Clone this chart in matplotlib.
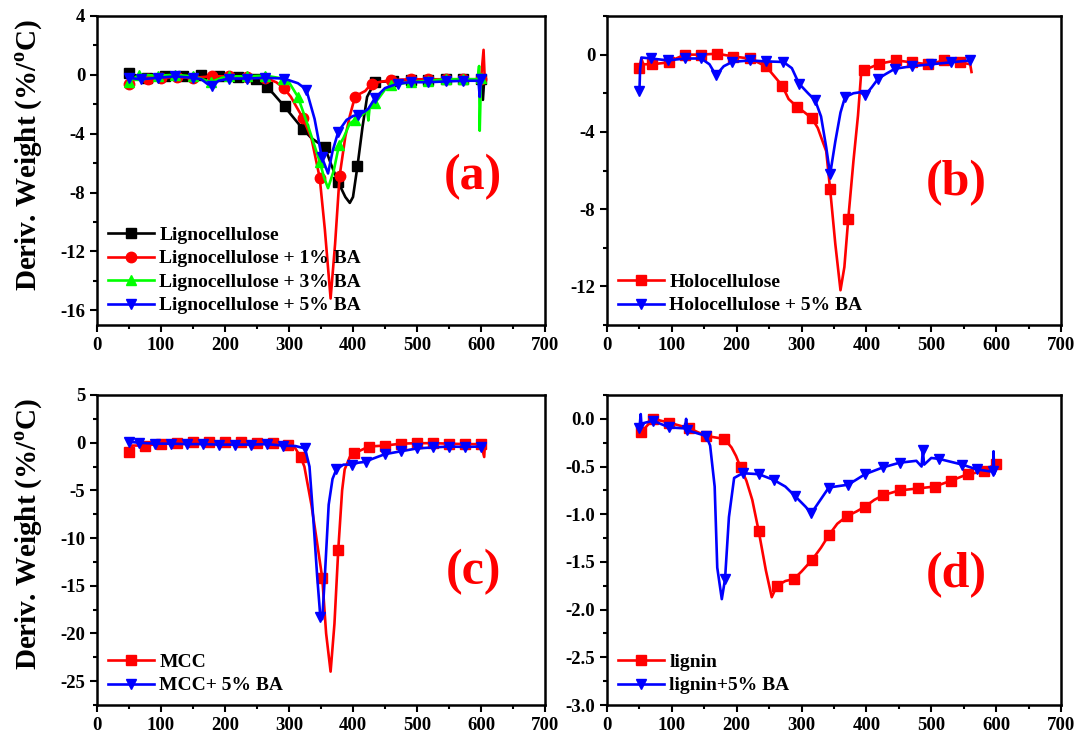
import numpy as np
import matplotlib
matplotlib.use("Agg")
import matplotlib.pyplot as plt
from matplotlib.ticker import MultipleLocator, FormatStrFormatter

plt.rcParams['font.family'] = ['Liberation Serif', 'DejaVu Serif']
plt.rcParams['font.weight'] = 'bold'
plt.rcParams['axes.unicode_minus'] = False

# ---------------- Panel (a) ----------------
a_ligno_T = [50, 65, 78, 95, 106, 123, 135, 150, 163, 180, 191, 207, 220, 235, 248, 265, 276, 293, 305,
             322, 335, 345, 356, 365, 377, 388, 395, 400, 407, 415, 422, 434, 450, 462, 490, 517, 545, 572,
             600, 603, 605, 606]
a_ligno_D = [0.1, -0.1, -0.2, -0.05, -0.1, 0.0, -0.1, -0.05, 0.0, -0.05, -0.1, -0.1, -0.15, -0.2, -0.3,
             -0.8, -1.3, -2.15, -2.8, -3.7, -4.3, -4.6, -4.9, -6.0, -7.3, -8.3, -8.7, -8.3, -6.2, -3.5, -1.5,
             -0.5, -0.45, -0.4, -0.35, -0.35, -0.3, -0.3, -0.3, -1.7, -0.3, -0.2]
a_ligno_M = [50, 78, 106, 135, 163, 191, 220, 248, 265, 293, 322, 356, 377, 407, 434, 462, 490, 517, 545, 572, 600]

a_ba1_T = [50, 60, 80, 100, 125, 150, 180, 207, 235, 263, 280, 292, 303, 312, 322, 335, 348, 356, 365, 372,
           379, 388, 395, 403, 410, 419, 429, 440, 460, 490, 517, 545, 572, 600, 604, 606, 607]
a_ba1_D = [-0.6, -0.3, -0.3, -0.2, -0.15, -0.2, -0.1, -0.1, -0.15, -0.2, -0.5, -0.9, -1.5, -2.2, -2.95,
           -4.3, -7.0, -10.5, -15.2, -11.5, -6.9, -4.2, -2.8, -1.5, -1.3, -1.1, -0.6, -0.5, -0.35, -0.3,
           -0.3, -0.3, -0.3, -0.3, 1.7, -0.5, -0.2]
a_ba1_M = [50, 80, 100, 125, 150, 180, 207, 235, 263, 292, 322, 348, 379, 403, 429, 460, 490, 517, 545, 572, 600]

a_ba3_T = [50, 65, 95, 122, 150, 165, 178, 195, 207, 235, 263, 290, 300, 314, 330, 348, 355, 361, 370, 378,
           385, 395, 403, 415, 422, 424, 426, 434, 440, 450, 460, 490, 517, 545, 572, 595, 597, 598, 600]
a_ba3_D = [-0.5, 0.0, -0.05, 0.0, -0.1, -0.3, -0.5, -0.2, -0.1, -0.1, -0.05, -0.25, -0.5, -1.5, -3.5, -5.9,
           -7.0, -7.7, -6.5, -4.8, -4.3, -3.3, -3.06, -2.7, -2.4, -3.1, -2.2, -1.9, -1.6, -1.0, -0.7, -0.5,
           -0.4, -0.3, -0.3, -0.3, 0.6, -3.8, -0.2]
a_ba3_M = [50, 65, 95, 122, 150, 178, 207, 235, 263, 290, 314, 348, 378, 403, 434, 460, 490, 517, 545, 572, 600]

a_ba5_T = [50, 68, 95, 122, 150, 163, 172, 180, 190, 207, 235, 263, 292, 314, 327, 340, 351, 361, 368, 377,
           390, 400, 408, 418, 424, 434, 450, 470, 490, 517, 545, 572, 596, 598, 600]
a_ba5_D = [-0.2, -0.3, -0.2, -0.1, -0.2, -0.3, -0.6, -0.75, -0.4, -0.25, -0.25, -0.2, -0.25, -0.57, -1.0,
           -3.0, -5.55, -6.7, -5.2, -3.86, -3.06, -2.8, -2.7, -2.5, -2.3, -1.6, -0.9, -0.6, -0.5, -0.5,
           -0.45, -0.4, -0.4, -1.5, -0.3]
a_ba5_M = [50, 68, 95, 122, 150, 180, 207, 235, 263, 292, 327, 351, 377, 408, 434, 470, 490, 517, 545, 572, 600]

# ---------------- Panel (b) ----------------
b_holo_T = [50, 53, 56, 70, 95, 100, 120, 145, 170, 195, 220, 245, 255, 270, 280, 293, 305, 316, 325, 331,
            338, 344, 352, 360, 366, 372, 380, 387, 392, 397, 420, 446, 470, 495, 520, 545, 560, 562]
b_holo_D = [-0.7, -0.2, -0.5, -0.5, -0.4, -0.3, 0.0, 0.0, 0.05, -0.1, -0.2, -0.6, -1.0, -1.6, -2.3, -2.7,
            -3.0, -3.3, -3.8, -4.36, -5.0, -6.96, -9.8, -12.2, -11.0, -8.5, -5.5, -3.15, -0.9, -0.8, -0.47,
            -0.3, -0.4, -0.5, -0.3, -0.4, -0.5, -0.9]
b_holo_M = [50, 70, 95, 120, 145, 170, 195, 220, 245, 270, 293, 316, 344, 372, 397, 420, 446, 470, 495, 520, 545]

b_ba5_T = [50, 51, 53, 68, 94, 120, 145, 158, 168, 180, 193, 220, 245, 272, 285, 296, 310, 321, 330, 338,
           344, 352, 360, 367, 380, 390, 398, 408, 418, 430, 444, 470, 500, 530, 560]
b_ba5_D = [-1.9, -0.8, -0.15, -0.2, -0.3, -0.2, -0.2, -0.5, -1.07, -0.6, -0.38, -0.3, -0.35, -0.38, -0.7,
           -1.5, -2.0, -2.37, -3.2, -4.8, -6.2, -4.5, -3.0, -2.2, -2.0, -1.95, -2.1, -1.7, -1.25, -1.0,
           -0.73, -0.6, -0.5, -0.4, -0.3]
b_ba5_M = [50, 68, 94, 120, 145, 168, 193, 220, 245, 272, 296, 321, 344, 367, 398, 418, 444, 470, 500, 530, 560]

# ---------------- Panel (c) ----------------
c_mcc_T = [50, 55, 75, 100, 125, 150, 175, 200, 225, 250, 275, 298, 310, 318, 324, 335, 345, 352, 358, 365,
           371, 377, 383, 387, 395, 402, 412, 425, 450, 475, 500, 525, 550, 575, 600, 605, 606]
c_mcc_D = [-1.0, -0.3, -0.3, -0.1, 0.0, 0.1, 0.1, 0.1, 0.05, 0.0, 0.0, -0.2, -0.6, -1.5, -2.5, -6.5, -11.0,
           -14.2, -20.0, -24.0, -19.0, -11.2, -5.0, -2.8, -1.5, -1.1, -0.8, -0.4, -0.3, -0.1, -0.05, -0.05,
           -0.1, -0.15, -0.15, -1.5, -0.3]
c_mcc_M = [50, 75, 100, 125, 150, 175, 200, 225, 250, 275, 298, 318, 352, 377, 402, 425, 450, 475, 500, 525,
           550, 575, 600]

c_ba5_T = [50, 65, 90, 115, 140, 165, 190, 215, 240, 265, 290, 310, 325, 332, 338, 344, 349, 352, 356, 362,
           368, 374, 385, 398, 408, 420, 430, 450, 475, 500, 525, 550, 575, 600, 605]
c_ba5_D = [0.1, 0.0, -0.1, -0.1, -0.15, -0.15, -0.2, -0.2, -0.2, -0.15, -0.3, -0.35, -0.6, -2.5, -8.0, -14.0,
           -18.3, -18.5, -14.0, -6.5, -3.8, -2.8, -2.3, -2.3, -2.1, -2.0, -1.7, -1.2, -0.9, -0.6, -0.5,
           -0.4, -0.45, -0.4, -0.3]
c_ba5_M = [50, 65, 90, 115, 140, 165, 190, 215, 240, 265, 290, 325, 349, 374, 398, 420, 450, 475, 500, 525,
           550, 575, 600]

# ---------------- Panel (d) ----------------
d_lig_T = [50, 53, 71, 96, 127, 153, 181, 192, 199, 206, 215, 224, 234, 245, 254, 262, 275, 288, 300, 316,
           330, 342, 355, 370, 385, 398, 412, 426, 451, 479, 505, 530, 556, 582, 592, 600]
d_lig_D = [-0.14, -0.14, 0.0, -0.04, -0.1, -0.18, -0.21, -0.3, -0.39, -0.51, -0.65, -0.85, -1.18, -1.59,
           -1.87, -1.75, -1.7, -1.68, -1.6, -1.48, -1.35, -1.22, -1.1, -1.02, -0.97, -0.92, -0.85, -0.8,
           -0.75, -0.73, -0.71, -0.65, -0.58, -0.55, -0.5, -0.47]
d_lig_M = [53, 71, 96, 127, 153, 181, 206, 234, 262, 288, 316, 342, 370, 398, 426, 451, 479, 505, 530, 556,
           582, 600]

d_ba5_T = [50, 52, 53, 71, 96, 120, 122, 124, 153, 159, 166, 170, 177, 182, 188, 196, 209, 234, 257, 275,
           290, 306, 315, 327, 342, 372, 398, 425, 451, 477, 485, 487, 489, 500, 512, 524, 548, 570, 590,
           595, 596, 597, 600]
d_ba5_D = [-0.1, 0.05, -0.05, -0.02, -0.09, -0.1, 0.0, -0.12, -0.18, -0.28, -0.71, -1.56, -1.89, -1.68,
           -1.03, -0.62, -0.57, -0.58, -0.64, -0.71, -0.81, -0.92, -0.99, -0.87, -0.72, -0.69, -0.58, -0.51,
           -0.46, -0.44, -0.5, -0.33, -0.48, -0.41, -0.42, -0.44, -0.48, -0.53, -0.55, -0.55, -0.34,
           -0.58, -0.52]
d_ba5_M = [50, 71, 96, 124, 153, 182, 209, 234, 257, 290, 315, 342, 372, 398, 425, 451, 487, 512, 548, 570, 595]

BLACK, RED, GREEN, BLUE = '#000000', '#FF0000', '#00FF00', '#0000FF'

panels = [
    dict(pos=[97, 16, 545, 325], ylim=(-17, 4), major=4, minor=2, fmt='%d', letter='(a)', lpos=(0.84, 0.48),
         series=[(a_ligno_T, a_ligno_D, a_ligno_M, BLACK, 's', 'Lignocellulose'),
                 (a_ba1_T, a_ba1_D, a_ba1_M, RED, 'o', 'Lignocellulose + 1% BA'),
                 (a_ba3_T, a_ba3_D, a_ba3_M, GREEN, '^', 'Lignocellulose + 3% BA'),
                 (a_ba5_T, a_ba5_D, a_ba5_M, BLUE, 'v', 'Lignocellulose + 5% BA')], ylabel=True),
    dict(pos=[607, 16, 1061, 325], ylim=(-14, 2), major=4, minor=2, fmt='%d', letter='(b)', lpos=(0.77, 0.46),
         series=[(b_holo_T, b_holo_D, b_holo_M, RED, 's', 'Holocellulose'),
                 (b_ba5_T, b_ba5_D, b_ba5_M, BLUE, 'v', 'Holocellulose + 5% BA')], ylabel=False),
    dict(pos=[97, 395, 545, 705], ylim=(-27.5, 5), major=5, minor=2.5, fmt='%d', letter='(c)', lpos=(0.84, 0.43),
         series=[(c_mcc_T, c_mcc_D, c_mcc_M, RED, 's', 'MCC'),
                 (c_ba5_T, c_ba5_D, c_ba5_M, BLUE, 'v', 'MCC+ 5% BA')], ylabel=True),
    dict(pos=[607, 395, 1061, 705], ylim=(-3.0, 0.25), major=0.5, minor=0.25, fmt='%.1f', letter='(d)',
         lpos=(0.77, 0.42),
         series=[(d_lig_T, d_lig_D, d_lig_M, RED, 's', 'lignin'),
                 (d_ba5_T, d_ba5_D, d_ba5_M, BLUE, 'v', 'lignin+5% BA')], ylabel=False),
]

W, H = 1075, 735
fig = plt.figure(figsize=(W / 100, H / 100), dpi=100)

for p in panels:
    x0, y0, x1, y1 = p['pos']
    ax = fig.add_axes([x0 / W, 1 - y1 / H, (x1 - x0) / W, (y1 - y0) / H])
    for T, D, M, col, mk, lab in p['series']:
        T = np.asarray(T, float)
        D = np.asarray(D, float)
        idx = sorted(set(int(np.argmin(np.abs(T - m))) for m in M))
        ax.plot(T, D, color=col, lw=1.9, marker=mk, markersize=7.5, markevery=idx, label=lab)
    ax.set_xlim(0, 700)
    ax.set_ylim(*p['ylim'])
    ax.xaxis.set_major_locator(MultipleLocator(100))
    ax.xaxis.set_minor_locator(MultipleLocator(50))
    ax.yaxis.set_major_locator(MultipleLocator(p['major']))
    ax.yaxis.set_minor_locator(MultipleLocator(p['minor']))
    ax.yaxis.set_major_formatter(FormatStrFormatter(p['fmt']))
    ax.tick_params(which='both', direction='out', top=False, right=False, width=1.5, labelsize=13.5)
    ax.tick_params(which='major', length=5)
    ax.tick_params(which='minor', length=3)
    for s in ax.spines.values():
        s.set_linewidth(1.8)
    for lbl in ax.get_xticklabels() + ax.get_yticklabels():
        lbl.set_fontweight('bold')
    if p['ylabel']:
        ax.set_ylabel('Deriv. Weight (%/$^{\\mathregular{o}}$C)', fontsize=21, fontweight='bold')
        ax.yaxis.set_label_coords(-0.115, 0.55)
    ax.text(p['lpos'][0], p['lpos'][1], p['letter'], transform=ax.transAxes, color=RED, fontsize=36,
            fontweight='bold', ha='center', va='center')
    ax.legend(loc='lower left', frameon=False, handlelength=2.4, handletextpad=0.25,
              labelspacing=0.3, borderaxespad=0.15, prop={'weight': 'bold', 'size': 14})

fig.savefig('out.png', dpi=100)
